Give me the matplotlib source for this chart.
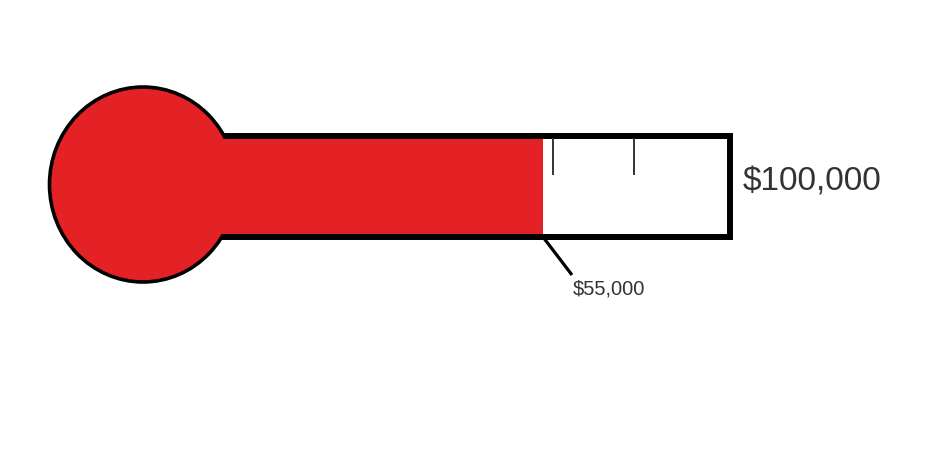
import matplotlib.pyplot as plt
from matplotlib.patches import Rectangle, Ellipse

plt.rcParams['font.family'] = ['Liberation Sans', 'DejaVu Sans']

# Dữ liệu
goal = 100000
raised = 55000
tick_values = [57300, 77000]
goal_label = '$100,000'
raised_label = '$55,000'

# thang đo: đô la -> pixel ngang
px_per_dollar = (730 - 543) / (goal - raised)
zero_px = 543 - raised * px_per_dollar


def d(px):
    # khoảng cách pixel -> đô la
    return px / px_per_dollar


fig = plt.figure(figsize=(9.3, 4.57), dpi=100)
ax = fig.add_axes([0, 0, 1, 1])
ax.set_xlim(d(0 - zero_px), d(930 - zero_px))
ax.set_ylim(457, 0)
ax.axis('off')

red = '#e42225'
tube_left = d(223 - zero_px)

# ống
ax.add_patch(Rectangle((tube_left, 136), goal - tube_left, 100.5,
                       facecolor='white', edgecolor='black', linewidth=4.3, zorder=1))
# bầu
ax.add_patch(Ellipse((d(143 - zero_px), 184.5), 2 * d(93.5), 195,
                     facecolor=red, edgecolor='black', linewidth=2.6, zorder=2))
# phần đã đạt
ax.add_patch(Rectangle((tube_left - d(20), 139), raised - tube_left + d(20), 94.5,
                       facecolor=red, edgecolor='none', zorder=3))

# vạch chia
for t in tick_values:
    ax.plot([t, t], [139, 174], color='#333333', linewidth=1.4, zorder=4)

# nhãn mục tiêu
ax.text(goal + d(13), 182, goal_label, fontsize=24, color='#333333',
        ha='left', va='center')

# đường dẫn và nhãn số tiền đã đạt
ax.plot([raised, raised + d(29)], [237, 275], color='black', linewidth=2.3,
        solid_capstyle='butt', zorder=4)
ax.text(raised + d(30), 289, raised_label, fontsize=14.5, color='#333333',
        ha='left', va='center')

fig.savefig('out.png', dpi=100, facecolor='white')
